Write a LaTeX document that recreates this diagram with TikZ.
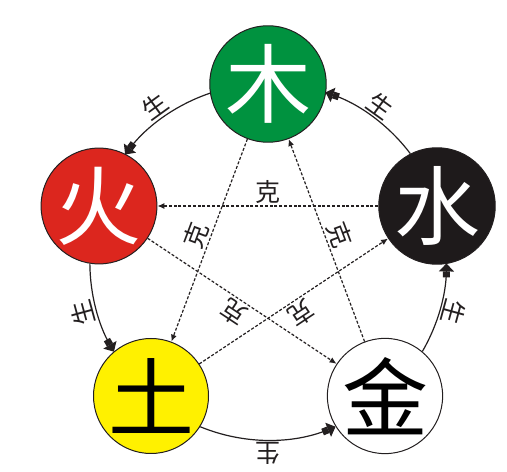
\documentclass[tikz,border=0pt]{standalone}
\usepackage{fontspec}
\newfontfamily\cjk{Noto Sans CJK SC}
\usepackage{tikz}
\usetikzlibrary{arrows.meta}
\definecolor{mugreen}{RGB}{0,146,63}
\definecolor{huored}{RGB}{220,38,30}
\definecolor{tuyellow}{RGB}{255,241,0}
\definecolor{shuiblack}{RGB}{30,26,27}
\definecolor{edgeline}{RGB}{35,31,32}
\tikzstyle{element} = [draw=edgeline, line width=1pt, circle, minimum size=115pt, inner sep=0pt, font=\cjk\fontsize{86}{86}\selectfont]
\tikzstyle{sheng} = [line width=1.2pt, draw=edgeline, -{Rectangle[width=7pt,length=6pt] Triangle[width=15pt,length=8pt]}]
\tikzstyle{ke} = [line width=1.2pt, draw=edgeline, dash pattern=on 3pt off 1.8pt, -{Latex[length=7pt,width=6pt]}]
\tikzstyle{lbl} = [midway, sloped, allow upside down, rotate=180, above, inner sep=2pt, text=edgeline, font=\cjk\fontsize{25}{25}\selectfont]

\begin{document}
\begin{tikzpicture}[x=1pt,y=1pt]
			\useasboundingbox (0,0) rectangle (507,472);
			% Five elements
			\node[element, fill=mugreen, text=white] (mu) at (268,388) {木};
			\node[element, fill=huored, text=white] (huo) at (99,266) {火};
			\node[element, fill=shuiblack, text=white] (shui) at (437,266) {水};
			\node[element, fill=tuyellow, text=black] (tu) at (151,76) {土};
			\node[element, fill=white, text=black] (jin) at (385,76) {金};
			
			% Generating cycle, along the circle through the centres
			\draw [sheng] (mu.189.4) arc[start angle=108.75, end angle=142.95, radius=178] node[lbl]{生};
			\draw [sheng] (huo.261.1) arc[start angle=180.45, end angle=210.15, radius=178] node[lbl]{生};
			\draw [sheng] (tu.328.3) arc[start angle=247.65, end angle=292.35, radius=178] node[lbl]{生};
			\draw [sheng] (jin.50.5) arc[start angle=329.85, end angle=359.55, radius=178] node[lbl]{生};
			\draw [sheng] (shui.117.7) arc[start angle=37.05, end angle=71.25, radius=178] node[lbl]{生};
			
			% Overcoming star
			\draw [ke] (mu) -- node[lbl]{克} (tu);
			\draw [ke] (tu) -- node[lbl]{克} (shui);
			\draw [ke] (shui) -- node[lbl]{克} (huo);
			\draw [ke] (huo) -- node[lbl]{克} (jin);
			\draw [ke] (jin) -- node[lbl]{克} (mu);
\end{tikzpicture}
\end{document}
